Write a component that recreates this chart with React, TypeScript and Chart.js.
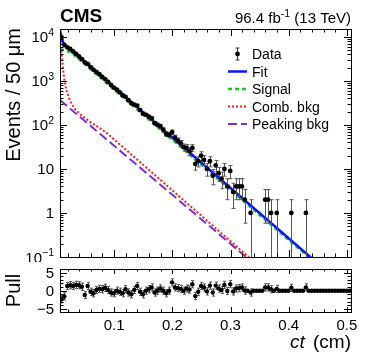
import React, { useEffect, useRef } from "react";
import { Chart, registerables } from "chart.js";

Chart.register(...registerables);

const FONT = '"Liberation Sans", Arial, Helvetica, sans-serif';

// Histogram binning (cm)
const CT_MIN = 0.007;
const CT_MAX = 0.507;
const BIN_WIDTH = 0.005;

// Events per 50 um bin
const eventCounts = [
  9760, 6569, 5748, 5288, 4629, 4082, 3579, 3121, 2621, 2415,
  2048, 1778, 1593, 1408, 1232, 1094, 942, 807, 700, 631,
  546, 470, 433, 363, 309, 289, 272, 216, 179, 169,
  153, 140, 109, 100, 93, 77, 62, 59, 68, 51,
  44, 38, 31, 30, 25, 30, 13, 15, 20, 16,
  10, 15, 7, 12, 8, 6, 10, 4, 9, 3,
  4, 4, 4, 2, 0, 1, 0, 0, 0, 0,
  2, 2, 1, 0, 1, 0, 0, 0, 0, 1,
  0, 0, 0, 0, 1, 0, 0, 0, 0, 0,
  0, 0, 0, 0, 0, 0, 0, 0, 0, 0,
];

// Pull per bin
const pullValues = [
  -2.4, -1.6, 1.3, 1.5, 1.3, 1.6, 1.5, 1.1, -1.2, 1.3,
  -0.3, -0.7, 0.2, 0.5, 0.4, 0.8, 0.2, -0.5, -0.7, 0,
  -0.3, -0.7, 0.4, -0.5, -1.0, 0.2, 1.3, -0.3, -1.0, 0,
  0.4, 0.9, -0.5, 0, 0.6, 0, -0.7, 0, 2.3, 0.9,
  0.7, 0.5, 0, 0.6, 0.3, 1.8, -1.5, -0.3, 1.3, 0.9,
  -0.2, 1.4, -0.5, 1.4, 0.6, 0.2, 1.6, -0.1, 1.8, -0.2,
  0.6, 0.7, 0.9, 0.05, 0, -0.5, 0, 0, 0, 0,
  0.9, 0.9, 0.4, 0, 0.5, 0, 0, 0, 0, 0.8,
  0, 0, 0, 0, 0.9, 0, 0, 0, 0, 0,
  0, 0, 0, 0, 0, 0, 0, 0, 0, 0,
];

// Fit components (ct in cm, events / 50 um)
const fitCt = [0.007, 0.009, 0.011, 0.013, 0.016, 0.02, 0.025, 0.087, 0.437, 0.507];
const fitValues = [14000, 10500, 8500, 7200, 6200, 5600, 5120, 1000, 0.1, 0.016];

const signalCt = [0.007, 0.012, 0.02, 0.025, 0.03, 0.087, 0.434, 0.507];
const signalValues = [5200, 5050, 4750, 4450, 4000, 885, 0.1, 0.0146];

const combCt = [0.007, 0.009, 0.011, 0.013, 0.015, 0.018, 0.022, 0.027, 0.034, 0.041, 0.05, 0.06, 0.07, 0.087, 0.331, 0.36];
const combValues = [9000, 5000, 2900, 1500, 950, 600, 420, 300, 220, 178, 142, 114, 94, 66, 0.1, 0.046];

const peakCt = [0.007, 0.35];
const peakValues = [365, 0.055];

// Axis ticks
const xMajorTicks = [0.1, 0.2, 0.3, 0.4, 0.5];
const xTickLabels = ["0.1", "0.2", "0.3", "0.4", "0.5"];
const yMajorTicks = [0.1, 1, 10, 100, 1000, 10000];
const yTickBase = ["10", "1", "10", "10", "10", "10"];
const yTickSup = ["\u22121", "", "", "2", "3", "4"];
const pullTicks = [-5, 0, 5];
const pullTickLabels = ["\u22125", "0", "5"];

const legendLabels = ["Data", "Fit", "Signal", "Comb. bkg", "Peaking bkg"];

const COLORS = {
  fit: "#0a14ff",
  signal: "#19c919",
  comb: "#ff1a1a",
  peak: "#7b2fd6",
};

const binCenter = (i: number) => CT_MIN + BIN_WIDTH * (i + 0.5);

function supText(ctx: CanvasRenderingContext2D, base: string, sup: string, x: number, y: number, size: number, align: "left" | "right" | "center") {
  ctx.font = `${size}px ${FONT}`;
  const wb = ctx.measureText(base).width;
  const ss = size * 0.7;
  ctx.font = `${ss}px ${FONT}`;
  const ws = sup ? ctx.measureText(sup).width : 0;
  const total = wb + ws;
  const x0 = align === "right" ? x - total : align === "center" ? x - total / 2 : x;
  ctx.textAlign = "left";
  ctx.textBaseline = "alphabetic";
  ctx.font = `${size}px ${FONT}`;
  ctx.fillText(base, x0, y);
  if (sup) {
    ctx.font = `${ss}px ${FONT}`;
    ctx.fillText(sup, x0 + wb, y - size * 0.42);
  }
}

function xTicks(ctx: CanvasRenderingContext2D, chart: any, majorLen: number, minorLen: number) {
  const { left, right, top, bottom } = chart.chartArea;
  const xs = chart.scales.x;
  ctx.beginPath();
  for (let k = 1; k <= 25; k++) {
    const v = k * 0.02;
    const px = Math.round(xs.getPixelForValue(v)) + 0.5;
    if (px <= left || px >= right) continue;
    const major = xMajorTicks.some((t) => Math.abs(t - v) < 1e-9);
    const len = major ? majorLen : minorLen;
    ctx.moveTo(px, bottom);
    ctx.lineTo(px, bottom - len);
    ctx.moveTo(px, top);
    ctx.lineTo(px, top + len);
  }
  ctx.stroke();
}

const mainPlugin = {
  id: "mainDecor",
  beforeDatasetDraw(chart: any, args: any) {
    if (args.index !== 0) return;
    const ctx: CanvasRenderingContext2D = chart.ctx;
    const xs = chart.scales.x;
    const ys = chart.scales.y;
    const a = chart.chartArea;
    ctx.save();
    ctx.beginPath();
    ctx.rect(a.left, a.top, a.right - a.left, a.bottom - a.top);
    ctx.clip();
    ctx.strokeStyle = "#555";
    ctx.lineWidth = 1;
    ctx.beginPath();
    eventCounts.forEach((n, i) => {
      if (n <= 0) return;
      const e = Math.sqrt(n);
      const px = Math.round(xs.getPixelForValue(binCenter(i))) + 0.5;
      const yt = ys.getPixelForValue(n + e);
      const yb = n - e > 0 ? ys.getPixelForValue(n - e) : a.bottom + 5;
      ctx.moveTo(px, yt);
      ctx.lineTo(px, yb);
      ctx.moveTo(px - 2, yt);
      ctx.lineTo(px + 2, yt);
      if (n - e > 0) {
        ctx.moveTo(px - 2, yb);
        ctx.lineTo(px + 2, yb);
      }
    });
    ctx.stroke();
    ctx.restore();
  },
  afterDraw(chart: any) {
    const ctx: CanvasRenderingContext2D = chart.ctx;
    const a = chart.chartArea;
    const ys = chart.scales.y;
    ctx.save();
    ctx.strokeStyle = "#000";
    ctx.fillStyle = "#000";
    ctx.lineWidth = 1;
    // frame
    ctx.strokeRect(Math.round(a.left) + 0.5, Math.round(a.top) + 0.5, Math.round(a.right - a.left), Math.round(a.bottom - a.top));
    xTicks(ctx, chart, 7, 3.5);
    // log y ticks
    ctx.beginPath();
    for (let d = -1; d <= 4; d++) {
      for (let m = 1; m <= 9; m++) {
        const v = m * Math.pow(10, d);
        if (v < ys.min || v > ys.max) continue;
        const py = Math.round(ys.getPixelForValue(v)) + 0.5;
        const len = m === 1 ? 7 : 3.5;
        ctx.moveTo(a.left, py);
        ctx.lineTo(a.left + len, py);
        ctx.moveTo(a.right, py);
        ctx.lineTo(a.right - len, py);
      }
    }
    ctx.stroke();
    // y labels
    yMajorTicks.forEach((v, i) => {
      const py = ys.getPixelForValue(v);
      supText(ctx, yTickBase[i], yTickSup[i], 54, py + 5.5, 15, "right");
    });
    // header
    ctx.font = `bold 19px ${FONT}`;
    ctx.textAlign = "left";
    ctx.fillText("CMS", 60, 22);
    const size = 15;
    ctx.font = `${size}px ${FONT}`;
    const p1 = "96.4 fb";
    const p3 = " (13 TeV)";
    const w1 = ctx.measureText(p1).width;
    const w3 = ctx.measureText(p3).width;
    ctx.font = `${size * 0.7}px ${FONT}`;
    const w2 = ctx.measureText("-1").width;
    const x0 = 351 - (w1 + w2 + w3);
    ctx.font = `${size}px ${FONT}`;
    ctx.fillText(p1, x0, 23);
    ctx.font = `${size * 0.7}px ${FONT}`;
    ctx.fillText("-1", x0 + w1, 23 - size * 0.42);
    ctx.font = `${size}px ${FONT}`;
    ctx.fillText(p3, x0 + w1 + w2, 23);
    // y title
    ctx.save();
    ctx.translate(20, 28);
    ctx.rotate(-Math.PI / 2);
    ctx.font = `20px ${FONT}`;
    ctx.textAlign = "right";
    ctx.fillText("Events / 50 \u03bcm", 0, 0);
    ctx.restore();
    // legend
    const lx0 = 228, lx1 = 247, tx = 252;
    const rows = [54, 71.5, 89, 106.5, 124];
    ctx.font = `14px ${FONT}`;
    ctx.textAlign = "left";
    legendLabels.forEach((lab, i) => {
      ctx.fillStyle = "#000";
      ctx.fillText(lab, tx, rows[i] + 5);
    });
    // data marker
    ctx.strokeStyle = "#333";
    ctx.beginPath();
    ctx.moveTo(237.5, rows[0] - 6);
    ctx.lineTo(237.5, rows[0] + 6);
    ctx.moveTo(235.5, rows[0] - 6);
    ctx.lineTo(239.5, rows[0] - 6);
    ctx.moveTo(235.5, rows[0] + 6);
    ctx.lineTo(239.5, rows[0] + 6);
    ctx.stroke();
    ctx.fillStyle = "#000";
    ctx.beginPath();
    ctx.arc(237.5, rows[0], 2.4, 0, Math.PI * 2);
    ctx.fill();
    const lineSample = (y: number, color: string, w: number, dash: number[]) => {
      ctx.strokeStyle = color;
      ctx.lineWidth = w;
      ctx.setLineDash(dash);
      ctx.beginPath();
      ctx.moveTo(lx0, y);
      ctx.lineTo(lx1, y);
      ctx.stroke();
      ctx.setLineDash([]);
    };
    lineSample(rows[1], COLORS.fit, 2.5, []);
    lineSample(rows[2], COLORS.signal, 2.5, [4, 3]);
    lineSample(rows[3], COLORS.comb, 2, [2, 2]);
    lineSample(rows[4], COLORS.peak, 2, [9, 4]);
    ctx.restore();
  },
};

const pullPlugin = {
  id: "pullDecor",
  beforeDatasetDraw(chart: any, args: any) {
    if (args.index !== 0) return;
    const ctx: CanvasRenderingContext2D = chart.ctx;
    const xs = chart.scales.x;
    const ys = chart.scales.y;
    ctx.save();
    ctx.strokeStyle = "#555";
    ctx.lineWidth = 1;
    ctx.beginPath();
    pullValues.forEach((p, i) => {
      if (eventCounts[i] <= 0) return;
      const px = Math.round(xs.getPixelForValue(binCenter(i))) + 0.5;
      const yt = ys.getPixelForValue(p + 1);
      const yb = ys.getPixelForValue(p - 1);
      ctx.moveTo(px, yt);
      ctx.lineTo(px, yb);
      ctx.moveTo(px - 1.5, yt);
      ctx.lineTo(px + 1.5, yt);
      ctx.moveTo(px - 1.5, yb);
      ctx.lineTo(px + 1.5, yb);
    });
    ctx.stroke();
    ctx.restore();
  },
  afterDraw(chart: any) {
    const ctx: CanvasRenderingContext2D = chart.ctx;
    const a = chart.chartArea;
    const xs = chart.scales.x;
    const ys = chart.scales.y;
    ctx.save();
    ctx.strokeStyle = "#000";
    ctx.fillStyle = "#000";
    ctx.lineWidth = 1;
    ctx.strokeRect(Math.round(a.left) + 0.5, Math.round(a.top) + 0.5, Math.round(a.right - a.left), Math.round(a.bottom - a.top));
    xTicks(ctx, chart, 5, 2.5);
    ctx.beginPath();
    for (let v = -5; v <= 5; v++) {
      const py = Math.round(ys.getPixelForValue(v)) + 0.5;
      const len = v % 5 === 0 ? 7 : 3.5;
      ctx.moveTo(a.left, py);
      ctx.lineTo(a.left + len, py);
      ctx.moveTo(a.right, py);
      ctx.lineTo(a.right - len, py);
    }
    ctx.stroke();
    ctx.font = `15px ${FONT}`;
    ctx.textAlign = "right";
    pullTicks.forEach((v, i) => {
      ctx.fillText(pullTickLabels[i], 54, ys.getPixelForValue(v) + 5.5);
    });
    ctx.textAlign = "center";
    xMajorTicks.forEach((v, i) => {
      ctx.fillText(xTickLabels[i], xs.getPixelForValue(v), a.bottom + 18);
    });
    // x title
    ctx.textAlign = "left";
    ctx.font = `19px ${FONT}`;
    const rest = " (cm)";
    const wr = ctx.measureText(rest).width;
    ctx.font = `italic 19px ${FONT}`;
    const wc = ctx.measureText("ct").width;
    const x0 = 351 - wr - wc - 3;
    ctx.fillText("ct", x0, a.bottom + 36);
    ctx.font = `19px ${FONT}`;
    ctx.fillText(rest, x0 + wc + 3, a.bottom + 36);
    // y title
    ctx.save();
    ctx.translate(20, (a.top + a.bottom) / 2);
    ctx.rotate(-Math.PI / 2);
    ctx.font = `20px ${FONT}`;
    ctx.textAlign = "center";
    ctx.fillText("Pull", 0, 0);
    ctx.restore();
    ctx.restore();
  },
};

export default function App() {
  const mainRef = useRef<HTMLCanvasElement>(null);
  const pullRef = useRef<HTMLCanvasElement>(null);

  useEffect(() => {
    const dataPts = eventCounts
      .map((n, i) => ({ x: binCenter(i), y: n }))
      .filter((p) => p.y > 0);
    const curve = (xs: number[], ys: number[]) => xs.map((x, i) => ({ x, y: ys[i] }));

    const main = new Chart(mainRef.current!, {
      type: "scatter",
      data: {
        datasets: [
          { label: "Data", data: dataPts, pointRadius: 2.4, pointBackgroundColor: "#000", pointBorderWidth: 0, showLine: false },
          { label: "Fit", data: curve(fitCt, fitValues), showLine: true, borderColor: COLORS.fit, borderWidth: 2.5, pointRadius: 0 },
          { label: "Signal", data: curve(signalCt, signalValues), showLine: true, borderColor: COLORS.signal, borderWidth: 2.5, borderDash: [4, 3], pointRadius: 0 },
          { label: "Comb. bkg", data: curve(combCt, combValues), showLine: true, borderColor: COLORS.comb, borderWidth: 2, borderDash: [2, 2], pointRadius: 0 },
          { label: "Peaking bkg", data: curve(peakCt, peakValues), showLine: true, borderColor: COLORS.peak, borderWidth: 2, borderDash: [9, 4], pointRadius: 0 },
        ],
      },
      options: {
        responsive: false,
        animation: false,
        devicePixelRatio: 1,
        layout: { padding: { left: 60, right: 23, top: 29, bottom: 5 } },
        plugins: { legend: { display: false }, tooltip: { enabled: false } },
        scales: {
          x: { type: "linear", min: CT_MIN, max: CT_MAX, display: false },
          y: { type: "logarithmic", min: 0.1, max: 15000, display: false },
        },
      },
      plugins: [mainPlugin],
    } as any);

    const pull = new Chart(pullRef.current!, {
      type: "scatter",
      data: {
        datasets: [
          {
            label: "Pull",
            data: pullValues.map((p, i) => ({ x: binCenter(i), y: p })),
            pointRadius: 2.2,
            pointBackgroundColor: "#000",
            pointBorderWidth: 0,
            showLine: false,
          },
        ],
      },
      options: {
        responsive: false,
        animation: false,
        devicePixelRatio: 1,
        layout: { padding: { left: 60, right: 23, top: 7, bottom: 47 } },
        plugins: { legend: { display: false }, tooltip: { enabled: false } },
        scales: {
          x: { type: "linear", min: CT_MIN, max: CT_MAX, display: false },
          y: { type: "linear", min: -5.9, max: 6, display: false },
        },
      },
      plugins: [pullPlugin],
    } as any);

    return () => {
      main.destroy();
      pull.destroy();
    };
  }, []);

  return (
    <div style={{ position: "absolute", left: 0, top: 0, width: 374, height: 359, background: "#fff" }}>
      <canvas ref={mainRef} width={374} height={262} style={{ position: "absolute", left: 0, top: 0, width: 374, height: 262 }} />
      <canvas ref={pullRef} width={374} height={97} style={{ position: "absolute", left: 0, top: 262, width: 374, height: 97 }} />
    </div>
  );
}
